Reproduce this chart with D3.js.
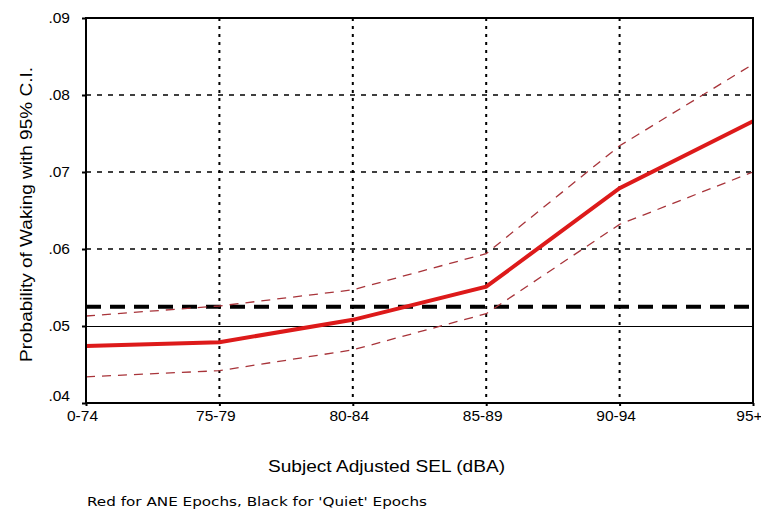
<!DOCTYPE html>
<html>
<head>
<meta charset="utf-8">
<script src="https://cdn.jsdelivr.net/npm/d3@7/dist/d3.min.js"></script>
<style>
  body { margin: 0; background: #fff; }
  svg { display: block; font-family: "Liberation Sans", Arial, sans-serif; }
</style>
</head>
<body>
<svg id="chart" width="761" height="514"></svg>
<script>
var categories = ['0-74', '75-79', '80-84', '85-89', '90-94', '95+'];
var aneMean    = [0.0474, 0.0479, 0.0508, 0.0551, 0.0679, 0.0766];
var aneUpper   = [0.0513, 0.0526, 0.0547, 0.0594, 0.0734, 0.0840];
var aneLower   = [0.0434, 0.0442, 0.0469, 0.0516, 0.0632, 0.0700];
var quietMean  = 0.0525;
var baseline   = 0.05;
var yTicks     = [0.04, 0.05, 0.06, 0.07, 0.08, 0.09];

var layout = { left: 86, right: 753, top: 18, bottom: 403 };

var svg = d3.select('#chart');

var x = d3.scalePoint()
    .domain(categories)
    .range([layout.left, layout.right]);

var y = d3.scaleLinear()
    .domain([0.04, 0.09])
    .range([layout.bottom, layout.top]);

var fmt = d => d3.format('.2f')(d).replace(/^0/, '');

// grid
svg.append('g')
    .selectAll('line')
    .data([0.06, 0.07, 0.08])
    .enter().append('line')
    .attr('x1', layout.left).attr('x2', layout.right)
    .attr('y1', d => y(d)).attr('y2', d => y(d))
    .attr('stroke', '#000').attr('stroke-width', 1.5)
    .attr('stroke-dasharray', '5,6');

svg.append('g')
    .selectAll('line')
    .data(categories.slice(1, -1))
    .enter().append('line')
    .attr('x1', d => x(d)).attr('x2', d => x(d))
    .attr('y1', layout.top).attr('y2', layout.bottom)
    .attr('stroke', '#000').attr('stroke-width', 2)
    .attr('stroke-dasharray', '3,5');

// baseline at .05
svg.append('line')
    .attr('x1', layout.left).attr('x2', layout.right)
    .attr('y1', y(baseline)).attr('y2', y(baseline))
    .attr('stroke', '#000').attr('stroke-width', 1)
    .attr('shape-rendering', 'crispEdges');

// quiet epochs mean
svg.append('line')
    .attr('x1', layout.left).attr('x2', layout.right)
    .attr('y1', y(quietMean)).attr('y2', y(quietMean))
    .attr('stroke', '#000').attr('stroke-width', 4)
    .attr('stroke-dasharray', '15,9');

var line = d3.line()
    .x((d, i) => x(categories[i]))
    .y(d => y(d));

// confidence bands
[aneUpper, aneLower].forEach(series => {
    svg.append('path')
        .datum(series)
        .attr('d', line)
        .attr('fill', 'none')
        .attr('stroke', '#a8343a')
        .attr('stroke-width', 1.3)
        .attr('stroke-dasharray', '9,7');
});

svg.append('path')
    .datum(aneMean)
    .attr('d', line)
    .attr('fill', 'none')
    .attr('stroke', '#dd1a1a')
    .attr('stroke-width', 4);

// frame
svg.append('rect')
    .attr('x', layout.left).attr('y', layout.top)
    .attr('width', layout.right - layout.left)
    .attr('height', layout.bottom - layout.top)
    .attr('fill', 'none')
    .attr('stroke', '#000').attr('stroke-width', 2);

// axes
var yAxis = svg.append('g')
    .attr('transform', `translate(${ layout.left }, 0)`)
    .call(d3.axisLeft(y).tickValues(yTicks).tickFormat(fmt).tickSize(4).tickPadding(12));

var xAxis = svg.append('g')
    .attr('transform', `translate(0, ${ layout.bottom })`)
    .call(d3.axisBottom(x).tickSize(3).tickPadding(4));

[yAxis, xAxis].forEach(g => {
    g.select('.domain').remove();
    g.selectAll('.tick line').attr('stroke', '#000').attr('stroke-width', 2);
    g.selectAll('.tick text')
        .attr('fill', '#000')
        .style('font-size', '15.5px')
        .style('font-family', '"Liberation Sans", Arial, sans-serif');
});

xAxis.selectAll('.tick text').attr('dx', -4);
yAxis.selectAll('.tick text').filter(d => d === 0.04).attr('dy', '-0.15em');

svg.append('text')
    .attr('transform', 'translate(32, 214.5) rotate(-90)')
    .attr('text-anchor', 'middle')
    .attr('textLength', 295)
    .attr('lengthAdjust', 'spacingAndGlyphs')
    .style('font-size', '16px')
    .text('Probability of Waking with 95% C.I.');

svg.append('text')
    .attr('x', 386.5).attr('y', 472)
    .attr('text-anchor', 'middle')
    .attr('textLength', 237)
    .attr('lengthAdjust', 'spacingAndGlyphs')
    .style('font-size', '16px')
    .text('Subject Adjusted SEL (dBA)');

svg.append('text')
    .attr('x', 87).attr('y', 506)
    .attr('textLength', 340)
    .attr('lengthAdjust', 'spacingAndGlyphs')
    .style('font-size', '12.5px')
    .style('font-family', '"DejaVu Sans", sans-serif')
    .text("Red for ANE Epochs, Black for 'Quiet' Epochs");
</script>
</body>
</html>
